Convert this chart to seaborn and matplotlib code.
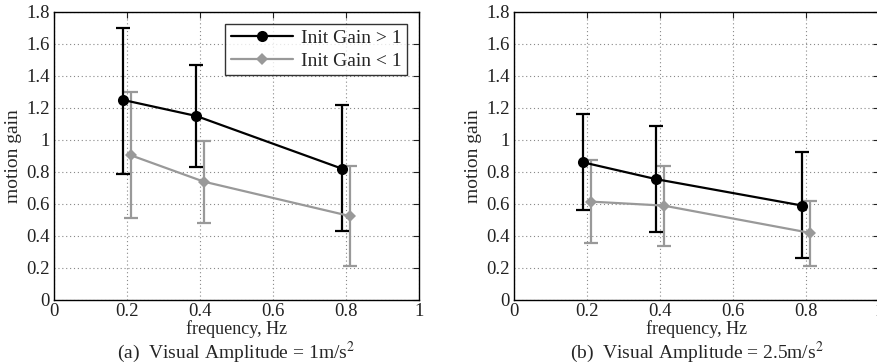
import numpy as np
import pandas as pd
import matplotlib
matplotlib.use("Agg")
import matplotlib.pyplot as plt
import seaborn as sns

sns.set_theme(style="white")
plt.rcParams['font.family'] = ['Liberation Serif', 'DejaVu Serif']
plt.rcParams['mathtext.fontset'] = 'stix'

# Panel (a): Visual Amplitude = 1 m/s^2
freq_hi = [0.19, 0.39, 0.79]
freq_lo = [0.21, 0.41, 0.81]
a_hi = [1.25, 1.15, 0.82]
a_hi_low = [0.79, 0.83, 0.43]
a_hi_up = [1.70, 1.47, 1.22]
a_lo = [0.905, 0.74, 0.525]
a_lo_low = [0.51, 0.48, 0.21]
a_lo_up = [1.30, 0.995, 0.84]

# Panel (b): Visual Amplitude = 2.5 m/s^2
b_hi = [0.86, 0.755, 0.59]
b_hi_low = [0.56, 0.425, 0.265]
b_hi_up = [1.165, 1.09, 0.925]
b_lo = [0.615, 0.59, 0.42]
b_lo_low = [0.355, 0.335, 0.215]
b_lo_up = [0.875, 0.84, 0.62]

labels = ["Init Gain > 1", "Init Gain < 1"]
captions = ["(a)  Visual Amplitude = 1m/s$^2$", "(b)  Visual Amplitude = 2.5m/s$^2$"]
xticks = [0, 0.2, 0.4, 0.6, 0.8, 1]
yticks = [0, 0.2, 0.4, 0.6, 0.8, 1, 1.2, 1.4, 1.6, 1.8]
xticklabels = ["0", "0.2", "0.4", "0.6", "0.8", "1"]
yticklabels = ["0", "0.2", "0.4", "0.6", "0.8", "1", "1.2", "1.4", "1.6", "1.8"]

GREY = "#999999"

fig = plt.figure(figsize=(8.77, 3.63), dpi=100)
axes = [fig.add_axes([54/877, 1 - 300/363, 365/877, 288/363]),
        fig.add_axes([514/877, 1 - 300/363, 365/877, 288/363])]

panels = [
    (a_hi, a_hi_low, a_hi_up, a_lo, a_lo_low, a_lo_up),
    (b_hi, b_hi_low, b_hi_up, b_lo, b_lo_low, b_lo_up),
]

for i, (ax, (hi, hil, hiu, lo, lol, lou)) in enumerate(zip(axes, panels)):
    df = pd.DataFrame({
        "freq": freq_hi + freq_lo,
        "gain": hi + lo,
        "group": [labels[0]] * 3 + [labels[1]] * 3,
    })
    ax.errorbar(freq_hi, hi, yerr=[np.array(hi) - np.array(hil), np.array(hiu) - np.array(hi)],
                fmt='none', ecolor='black', elinewidth=1.6, capsize=5, capthick=1.6, zorder=3)
    ax.errorbar(freq_lo, lo, yerr=[np.array(lo) - np.array(lol), np.array(lou) - np.array(lo)],
                fmt='none', ecolor=GREY, elinewidth=1.6, capsize=5, capthick=1.6, zorder=2)
    sns.lineplot(data=df, x="freq", y="gain", hue="group", style="group",
                 palette={labels[0]: "black", labels[1]: GREY},
                 markers={labels[0]: "o", labels[1]: "D"},
                 dashes={labels[0]: "", labels[1]: ""},
                 markersize=8, markeredgewidth=0, linewidth=1.6,
                 ax=ax, legend=(i == 0), zorder=4)
    for ln in ax.get_lines():
        if ln.get_marker() == "D":
            ln.set_markersize(6)
    ax.set_xlim(0, 1)
    ax.set_ylim(0, 1.8)
    ax.set_xticks(xticks)
    ax.set_xticklabels(xticklabels)
    ax.set_yticks(yticks)
    ax.set_yticklabels(yticklabels)
    ax.tick_params(direction='in', length=4, width=0.8, labelsize=13.5, colors='#222222',
                   top=True, right=True, pad=3)
    ax.tick_params(axis='x', pad=2)
    ax.grid(True, linestyle=(0, (1, 2.5)), color='#888888', linewidth=0.8)
    for s in ax.spines.values():
        s.set_color('black')
        s.set_linewidth(1.0)
    ax.set_xlabel("frequency, Hz", fontsize=13, labelpad=0)
    ax.set_ylabel("motion gain", fontsize=14, labelpad=3)
    ax.text(0.5, -0.2, captions[i], transform=ax.transAxes, ha='center', va='baseline',
            fontsize=14)

leg = axes[0].legend(loc='upper right', frameon=True, fancybox=False, fontsize=14,
                     edgecolor='black', borderpad=0.3, handlelength=3.2, labelspacing=0.25,
                     borderaxespad=0.6, handletextpad=0.4)
leg.get_frame().set_linewidth(1.0)

fig.savefig("out.png", dpi=100)
